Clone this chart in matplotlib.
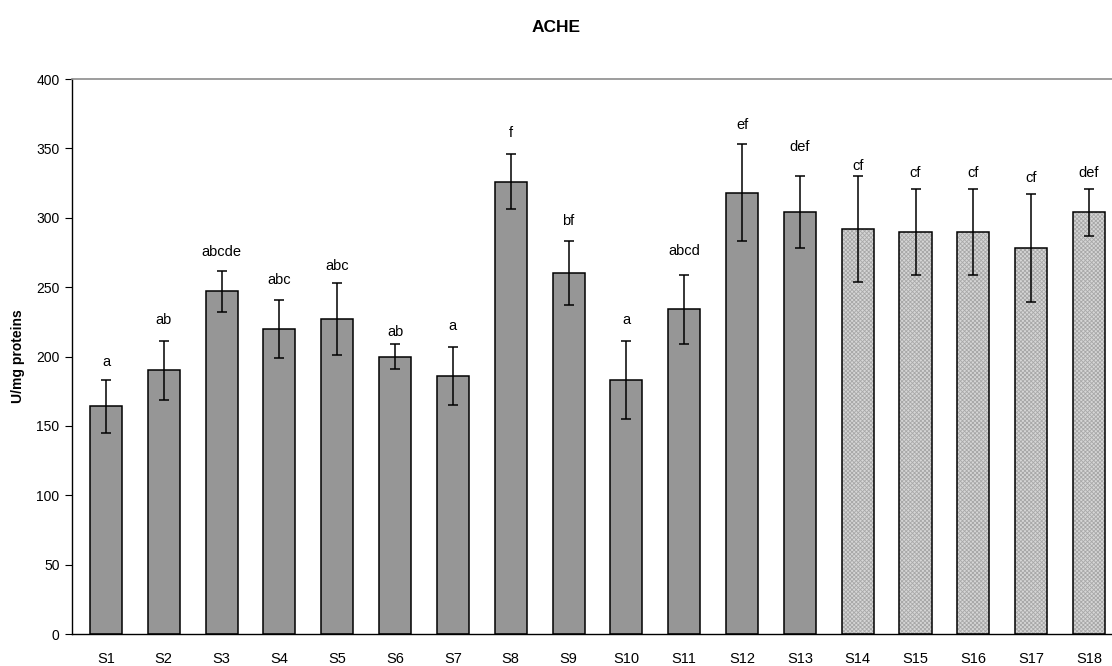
import matplotlib
matplotlib.use("Agg")
import matplotlib.pyplot as plt
import numpy as np

plt.rcParams["font.family"] = ["Liberation Sans", "DejaVu Sans"]
plt.rcParams["hatch.linewidth"] = 0.6

# ── data ────────────────────────────────────────────────────────────────────
samples = [f"S{i}" for i in range(1, 19)]
means = [164, 190, 247, 220, 227, 200, 186, 326, 260, 183, 234, 318, 304,
         292, 290, 290, 278, 304]
errors = [19, 21, 15, 21, 26, 9, 21, 20, 23, 28, 25, 35, 26, 38, 31, 31, 39, 17]
letters = ["a", "ab", "abcde", "abc", "abc", "ab", "a", "f", "bf", "a", "abcd",
           "ef", "def", "cf", "cf", "cf", "cf", "def"]
letter_y = [196, 226, 275, 255, 265, 218, 222, 361, 298, 226, 276, 367, 351,
            337, 332, 332, 329, 332]
n_plain = 13  # S1..S13 solid grey, S14..S18 textured

C_BAR = "#969696"
C_TEX = "#d6d6d6"

fig = plt.figure(figsize=(11.12, 6.66), dpi=100, facecolor="white")
ax = fig.add_axes([0.0647, 0.048, 0.9353, 0.8333])

x = np.arange(len(samples))
w = 0.554

ax.bar(x[:n_plain], means[:n_plain], width=w, color=C_BAR,
       edgecolor="black", linewidth=1.1, zorder=2)
# textured bars: hatched fill first, then a black outline on top
ax.bar(x[n_plain:], means[n_plain:], width=w, color=C_TEX,
       edgecolor="#a8a8a8", linewidth=0, hatch="xxxxxxxx", zorder=2)
ax.bar(x[n_plain:], means[n_plain:], width=w, color="none",
       edgecolor="black", linewidth=1.1, zorder=3)

ax.errorbar(x, means, yerr=errors, fmt="none", ecolor="black",
            elinewidth=1.1, capsize=3.5, capthick=1.1, zorder=4)

for xi, lab, ly in zip(x, letters, letter_y):
    ax.text(xi, ly, lab, ha="center", va="center", fontsize=10.5)

ax.set_xlim(-0.588, 17.398)
ax.set_ylim(0, 400)
ax.set_yticks(np.arange(0, 401, 50))
ax.set_xticks(x)
ax.set_xticklabels(samples)
ax.tick_params(axis="y", direction="out", length=5, width=0.8, labelsize=10, pad=4)
ax.tick_params(axis="x", length=0, labelsize=10.5, pad=13)

ax.spines["right"].set_visible(False)
ax.spines["top"].set_color("#8c8c8c")
ax.spines["top"].set_linewidth(1.2)
ax.spines["left"].set_linewidth(1.0)
ax.spines["bottom"].set_linewidth(1.0)

ax.set_ylabel("U/mg proteins", fontsize=10, fontweight="bold", labelpad=8)
fig.text(0.5, 0.958, "ACHE", ha="center", va="center", fontsize=12.5,
         fontweight="bold")

fig.savefig("out.png", dpi=100, facecolor="white")
